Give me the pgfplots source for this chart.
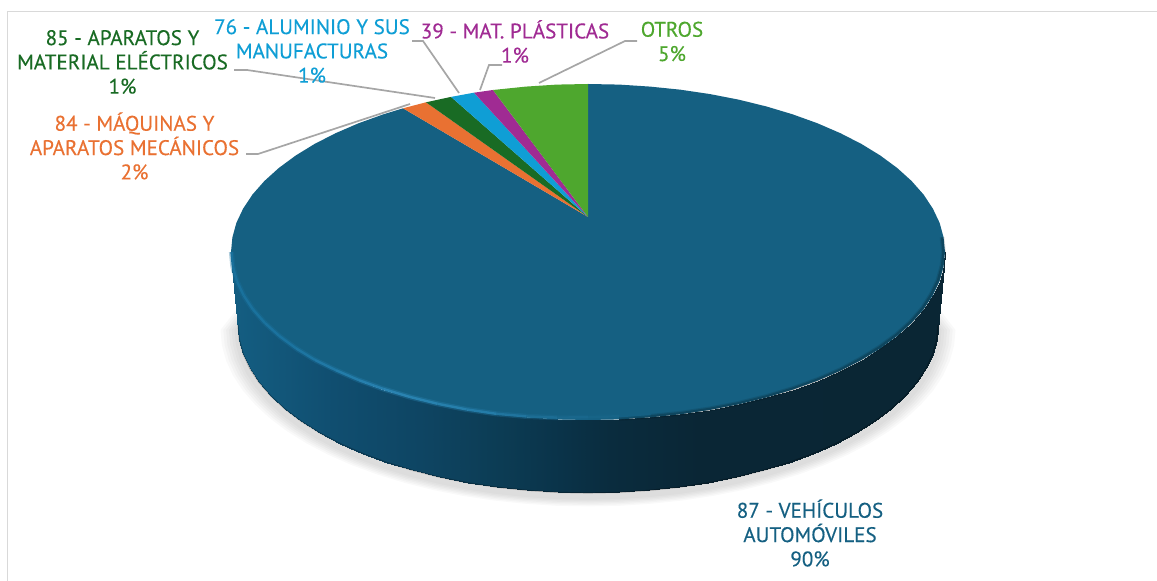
\documentclass[border=0pt]{standalone}
\usepackage{fontspec}
\usepackage{pgfplots}
\usepackage{pgfplotstable}
\pgfplotsset{compat=1.18}
\setmainfont[FakeBold=0.3]{PT Sans}
\definecolor{c87}{HTML}{156082}
\definecolor{c84}{HTML}{E97132}
\definecolor{c85}{HTML}{196B24}
\definecolor{c76}{HTML}{0F9ED5}
\definecolor{c39}{HTML}{A02B93}
\definecolor{cOt}{HTML}{4EA72E}
\definecolor{lead}{HTML}{A6A6A6}
\tikzset{lbl/.style={align=center, inner sep=0pt, font=\fontsize{10.55}{12.15}\selectfont}}
\pgfplotsset{
  colormap={wall}{rgb255(231)=(20,94,130) rgb255(333)=(16,78,112) rgb255(420)=(14,69,99) rgb255(500)=(12,60,84) rgb255(560)=(10,51,73) rgb255(610)=(10,44,62) rgb255(700)=(10,38,53) rgb255(945)=(10,38,52)},
  colormap={rim}{rgb255(231)=(25,112,155) rgb255(300)=(28,116,160) rgb255(400)=(42,132,178) rgb255(480)=(36,124,168) rgb255(560)=(26,104,142) rgb255(640)=(21,96,130) rgb255(945)=(21,96,130)},
}
% bottom edge of the disc
\pgfplotstableread{
x y
938 325
936.7 339.6
932.7 354.2
926.1 368.5
916.9 382.5
905.2 396
891.1 409
874.7 421.4
856.1 433
835.5 443.8
813 453.7
788.8 462.6
763 470.5
735.9 477.3
707.7 482.9
678.6 487.3
648.8 490.4
618.5 492.4
588 493
557.5 492.4
527.2 490.4
497.4 487.3
468.3 482.9
440.1 477.3
413 470.5
387.2 462.6
363 453.7
340.5 443.8
319.9 433
301.3 421.4
284.9 409
270.8 396
259.1 382.5
249.9 368.5
243.3 354.2
239.3 339.6
238 325
}\lowedge
% outline of the soft shadow: the bottom edge, closed under the disc
\pgfplotstableread{
x y
880 250
938 325
936.7 339.6
932.7 354.2
926.1 368.5
916.9 382.5
905.2 396
891.1 409
874.7 421.4
856.1 433
835.5 443.8
813 453.7
788.8 462.6
763 470.5
735.9 477.3
707.7 482.9
678.6 487.3
648.8 490.4
618.5 492.4
588 493
557.5 492.4
527.2 490.4
497.4 487.3
468.3 482.9
440.1 477.3
413 470.5
387.2 462.6
363 453.7
340.5 443.8
319.9 433
301.3 421.4
284.9 409
270.8 396
259.1 382.5
249.9 368.5
243.3 354.2
239.3 339.6
238 325
296 250
}\shadowedge
% wall mesh: top row then bottom row
\pgfplotstableread{
x y
945 252
943.6 266.6
939.6 281.2
932.8 295.5
923.5 309.5
911.6 323
897.2 336
880.4 348.4
861.5 360
840.4 370.8
817.5 380.7
792.8 389.6
766.5 397.5
738.9 404.3
710.1 409.9
680.4 414.3
650 417.4
619.1 419.4
588 420
556.9 419.4
526 417.4
495.6 414.3
465.9 409.9
437.1 404.3
409.5 397.5
383.2 389.6
358.5 380.7
335.6 370.8
314.5 360
295.6 348.4
278.8 336
264.4 323
252.5 309.5
243.2 295.5
236.4 281.2
232.4 266.6
231 252
938 325
936.7 339.6
932.7 354.2
926.1 368.5
916.9 382.5
905.2 396
891.1 409
874.7 421.4
856.1 433
835.5 443.8
813 453.7
788.8 462.6
763 470.5
735.9 477.3
707.7 482.9
678.6 487.3
648.8 490.4
618.5 492.4
588 493
557.5 492.4
527.2 490.4
497.4 487.3
468.3 482.9
440.1 477.3
413 470.5
387.2 462.6
363 453.7
340.5 443.8
319.9 433
301.3 421.4
284.9 409
270.8 396
259.1 382.5
249.9 368.5
243.3 354.2
239.3 339.6
238 325
}\wallmesh
\pgfplotstableread{
x y
231.5 252
232.9 266.6
236.9 281.2
243.7 295.5
253 309.5
264.9 323
279.3 336
296.1 348.4
315 360
336.1 370.3
359 380.2
383.7 389.1
410 397
437.6 403.8
466.4 409.4
496.1 413.8
526.5 416.4
557.4 417.6
588.5 417.2
619.6 416.2
650.5 413.8
}\rimleft
\pgfplotstableread{
x y
619.1 418.4
650 416.4
680.4 413.3
710.1 408.9
738.9 403.3
766.5 396.5
792.8 388.6
817.5 379.7
840.4 369.8
860.5 359
879.4 347.4
896.2 335
910.6 322
922.5 308.5
931.3 294.5
938.1 280.2
942.1 265.6
943.5 252
942.1 237.4
}\rimright
\begin{document}
\begin{tikzpicture}
\useasboundingbox (0,0) rectangle (578.5pt,290.5pt);
\begin{axis}[
  scale only axis, width=578.5pt, height=290.5pt,
  xmin=0, xmax=1157, ymin=0, ymax=581, y dir=reverse,
  hide axis, clip=false,
  point meta min=231, point meta max=945,
]
% frame
\addplot[color=black!15, line width=0.75pt] coordinates {(1157,11.5) (7.5,11.5) (7.5,581)};
% shadow
\foreach \k in {1.050, 1.042, 1.034, 1.026, 1.018, 1.010}{
  \edef\tmp{\noexpand\addplot[fill=black, draw=none, fill opacity=0.022, forget plot]
    table[x expr={588+(\noexpand\thisrow{x}-588)*\k}, y expr={330+(\noexpand\thisrow{y}-325)*\k}] {\noexpand\shadowedge} -- cycle;}
  \tmp
}
% side wall
\addplot[surf, shader=interp, colormap name=wall, mesh/rows=2, point meta=x] table[x=x,y=y] {\wallmesh};
\addplot[color=black, opacity=0.25, line width=0.6pt] table {\lowedge};
% top surface: main slice 87
\addplot[fill=c87, draw=none] coordinates {
 (588,217) (588,84) (619.1,84.6) (650,86.6) (680.4,89.7) (710.1,94.1) (738.9,99.7) (766.5,106.5) (792.8,114.4) (817.5,123.3) (840.4,133.2) (861.5,144) (880.4,155.6) (897.2,168) (911.6,181) (923.5,194.5) (932.8,208.5) (939.6,222.8) (943.6,237.4) (945,252)
 (943.6,266.6) (939.6,281.2) (932.8,295.5) (923.5,309.5) (911.6,323) (897.2,336) (880.4,348.4) (861.5,360) (840.4,370.8) (817.5,380.7) (792.8,389.6) (766.5,397.5) (738.9,404.3) (710.1,409.9) (680.4,414.3) (650,417.4) (619.1,419.4) (588,420)
 (556.9,419.4) (526,417.4) (495.6,414.3) (465.9,409.9) (437.1,404.3) (409.5,397.5) (383.2,389.6) (358.5,380.7) (335.6,370.8) (314.5,360) (295.6,348.4) (278.8,336) (264.4,323) (252.5,309.5) (243.2,295.5) (236.4,281.2) (232.4,266.6) (231,252)
 (232.4,237.4) (236.4,222.8) (243.2,208.5) (252.5,194.5) (264.4,181) (278.8,168) (295.6,155.6) (314.5,144) (335.6,133.2) (358.5,123.3) (383.2,114.4) (403,108.3) (588,217)} -- cycle;
% small slices
\addplot[fill=c84, draw=none] coordinates {(588,217) (403,108.3) (426,102.3) (588,217)} -- cycle;
\addplot[fill=c85, draw=none] coordinates {(588,217) (426,102.3) (451,96.9) (588,217)} -- cycle;
\addplot[fill=c76, draw=none] coordinates {(588,217) (451,96.9) (474,92.7) (588,217)} -- cycle;
\addplot[fill=c39, draw=none] coordinates {(588,217) (474,92.7) (493,90) (588,217)} -- cycle;
\addplot[fill=cOt, draw=none] coordinates {(588,217) (493,90) (526,86.6) (556.9,84.6) (588,84) (588,217)} -- cycle;
% rim light and shade
\addplot[color=black, opacity=0.1, line width=2.4pt] table {\rimright};
\addplot[color=black, opacity=0.18, line width=1.2pt] table {\rimright};
\addplot[mesh, colormap name=rim, point meta=x, line width=2.6pt, opacity=0.35] table {\rimleft};
\addplot[mesh, colormap name=rim, point meta=x, line width=1.2pt] table {\rimleft};
% leader lines
\addplot[color=lead, line width=0.85pt] coordinates {(234,70) (247,70) (435,98)};
\addplot[color=lead, line width=0.85pt] coordinates {(246,154) (258,154) (410,104)};
\addplot[color=lead, line width=0.85pt] coordinates {(412,41) (423,41) (459,93)};
\addplot[color=lead, line width=0.85pt] coordinates {(502,65) (489,65) (480,90)};
\addplot[color=lead, line width=0.85pt] coordinates {(637,41) (625,41) (539,83)};
% labels
\node[lbl, text=c85] at (axis cs:122.5,62) {85 - APARATOS Y\\MATERIAL ELÉCTRICOS\\1\%};
\node[lbl, text=c84] at (axis cs:134.5,146) {84 - MÁQUINAS Y\\APARATOS MECÁNICOS\\2\%};
\node[lbl, text=c76] at (axis cs:312,51) {76 - ALUMINIO Y SUS\\MANUFACTURAS\\1\%};
\node[lbl, text=c39] at (axis cs:515,41.5) {39 - MAT. PLÁSTICAS\\1\%};
\node[lbl, text=cOt] at (axis cs:672,41.5) {OTROS\\5\%};
\node[lbl, text=c87] at (axis cs:810,533) {87 - VEHÍCULOS\\AUTOMÓVILES\\90\%};
\end{axis}
\end{tikzpicture}
\end{document}
